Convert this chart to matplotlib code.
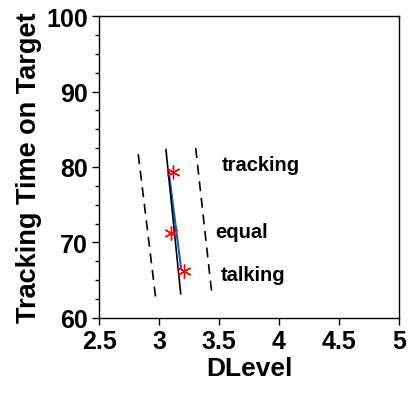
import numpy as np
import matplotlib.pyplot as plt

plt.rcParams['font.family'] = ['Liberation Sans', 'DejaVu Sans']
plt.rcParams['font.weight'] = 'bold'

# fitted line and bounds (end points)
fit_x = [3.058, 3.181]
fit_y = [82.3, 63.2]
lower_x = [2.827, 2.972]
lower_y = [81.7, 62.7]
upper_x = [3.306, 3.439]
upper_y = [82.5, 63.4]
mean_x = [3.08, 3.185]
mean_y = [79.5, 66.5]

# conditions
cond_x = [3.114, 3.103, 3.211]
cond_y = [79.3, 71.3, 66.2]
labels = ['tracking', 'equal', 'talking']
label_x = [3.525, 3.467, 3.517]
label_y = [80.3, 71.4, 65.8]

fig = plt.figure(figsize=(4.1, 4.02), dpi=100)
ax = fig.add_axes([0.2415, 0.2065, 0.7315, 0.7512])

ax.plot(lower_x, lower_y, 'k--', lw=1.2, dashes=(6, 4))
ax.plot(upper_x, upper_y, 'k--', lw=1.2, dashes=(6, 4))
ax.plot(mean_x, mean_y, color='#1060c0', lw=1.5)
ax.plot(fit_x, fit_y, 'k-', lw=1.2)
ax.plot(cond_x, cond_y, color='red', ms=10, mew=1.0, linestyle='none',
        marker=(6, 2, 0))

for t, x, y in zip(labels, label_x, label_y):
    ax.text(x, y, t, fontsize=14.5, fontweight='bold', va='center', ha='left')

ax.set_xlim(2.5, 5)
ax.set_ylim(60, 100)
ax.set_xticks([2.5, 3, 3.5, 4, 4.5, 5])
ax.set_xticklabels(['2.5', '3', '3.5', '4', '4.5', '5'])
ax.set_yticks([60, 70, 80, 90, 100])
ax.set_yticks(np.arange(60, 100, 2.5), minor=True)
ax.tick_params(which='major', labelsize=18, length=5, width=1, direction='out',
               top=False, right=False, pad=3)
ax.tick_params(which='minor', length=3, width=1, direction='out',
               top=False, right=False)
ax.set_xlabel('DLevel', fontsize=19, fontweight='bold', labelpad=2)
ax.set_ylabel('Tracking Time on Target', fontsize=19.5, fontweight='bold', labelpad=3)
for s in ax.spines.values():
    s.set_linewidth(1)

fig.savefig('out.png', dpi=100)
